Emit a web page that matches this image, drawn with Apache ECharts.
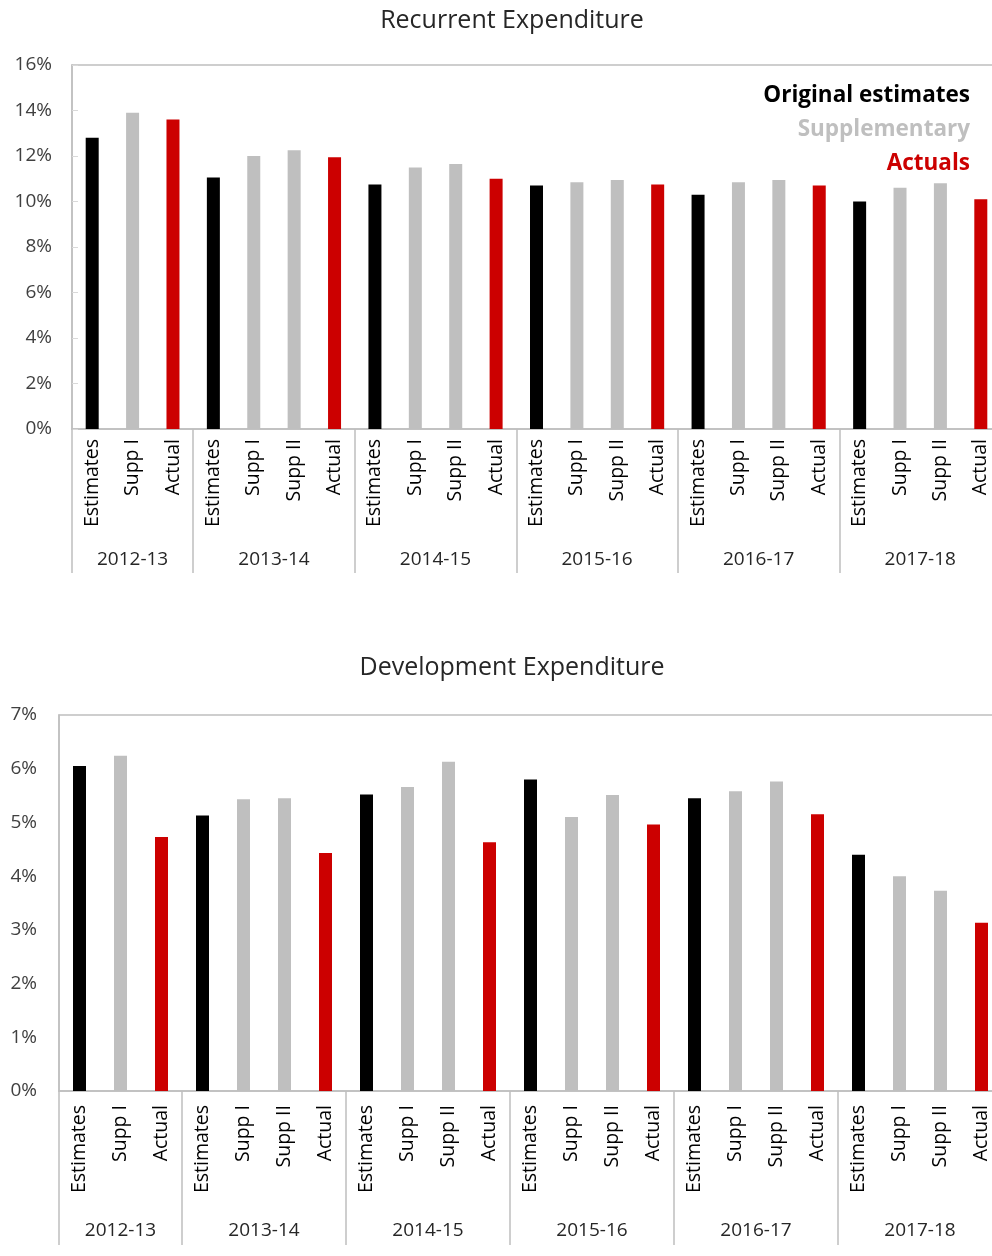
<!DOCTYPE html>
<html>
<head>
<meta charset="utf-8">
<script src="https://cdn.jsdelivr.net/npm/echarts@6/dist/echarts.min.js"></script>
<style>
  html, body { margin: 0; padding: 0; background: #fff; }
  #chart { width: 992px; height: 1256px; }
</style>
</head>
<body>
<div id="chart"></div>
<script>
// sub-categories under each fiscal year
var years = ['2012-13', '2013-14', '2014-15', '2015-16', '2016-17', '2017-18']
var yearStages = [
    ['Estimates', 'Supp I', 'Actual'],
    ['Estimates', 'Supp I', 'Supp II', 'Actual'],
    ['Estimates', 'Supp I', 'Supp II', 'Actual'],
    ['Estimates', 'Supp I', 'Supp II', 'Actual'],
    ['Estimates', 'Supp I', 'Supp II', 'Actual'],
    ['Estimates', 'Supp I', 'Supp II', 'Actual']
]

// % values, one per bar, left to right
var recurrent = [12.8, 13.9, 13.6,
    11.05, 12.0, 12.25, 11.95,
    10.75, 11.5, 11.65, 11.0,
    10.7, 10.85, 10.95, 10.75,
    10.3, 10.85, 10.95, 10.7,
    10.0, 10.6, 10.8, 10.1]
var development = [6.05, 6.24, 4.73,
    5.13, 5.43, 5.45, 4.43,
    5.52, 5.66, 6.13, 4.63,
    5.80, 5.10, 5.51, 4.96,
    5.45, 5.58, 5.76, 5.15,
    4.40, 4.00, 3.73, 3.13]

var seriesNames = ['Original estimates', 'Supplementary', 'Actuals']
var seriesColors = ['#000000', '#bfbfbf', '#cc0000']

var FONT = '"Open Sans", "Noto Sans", sans-serif'
var AXIS_GRAY = '#bfbfbf'

var stages = [].concat.apply([], yearStages)
function kindOf(stage) {
    if (stage === 'Estimates') return 0
    if (stage === 'Actual') return 2
    return 1
}

// year axis uses half-category slots so group centres & boundaries land on data points
var yearSlots = []
var boundarySlots = {}
var pos = 0
boundarySlots[0] = true
years.forEach(function (y, i) {
    var n = yearStages[i].length * 2
    for (var k = 0; k < n; k++) yearSlots.push(k === n / 2 ? y : '')
    pos += n
    boundarySlots[pos] = true
})
yearSlots.push('')

function barSeries(values, gridIdx) {
    return seriesNames.map(function (name, s) {
        return {
            name: name,
            type: 'bar',
            xAxisIndex: gridIdx * 2,
            yAxisIndex: gridIdx,
            barWidth: 13,
            barGap: '-100%',
            color: seriesColors[s],
            itemStyle: { color: seriesColors[s] },
            data: values.map(function (v, i) { return kindOf(stages[i]) === s ? v : '-' })
        }
    })
}

function stageAxis(gridIdx, margin) {
    return {
        gridIndex: gridIdx,
        type: 'category',
        position: 'bottom',
        data: stages,
        axisLine: { lineStyle: { color: AXIS_GRAY, width: 1.5 } },
        axisTick: { show: false },
        axisLabel: {
            interval: 0, rotate: 90, margin: margin,
            color: '#000', fontFamily: FONT, fontSize: 19.5
        }
    }
}

function yearAxis(gridIdx, tickLen, margin) {
    return {
        gridIndex: gridIdx,
        type: 'category',
        position: 'bottom',
        boundaryGap: false,
        data: yearSlots,
        axisLine: { show: false },
        axisTick: {
            show: true, length: tickLen,
            interval: function (idx) { return !!boundarySlots[idx] },
            lineStyle: { color: AXIS_GRAY, width: 1.5 }
        },
        axisLabel: {
            interval: 0, margin: margin,
            color: '#262626', fontFamily: FONT, fontSize: 19
        }
    }
}

var myChart = echarts.init(document.getElementById('chart'))
myChart.setOption({
    animation: false,
    backgroundColor: '#fff',
    title: [
        { text: 'Recurrent Expenditure', left: 512, top: 8, textAlign: 'center', padding: 0,
          textStyle: { fontFamily: FONT, fontSize: 25, fontWeight: 'normal', color: '#262626' } },
        { text: 'Development Expenditure', left: 512, top: 655, textAlign: 'center', padding: 0,
          textStyle: { fontFamily: FONT, fontSize: 25, fontWeight: 'normal', color: '#262626' } }
    ],
    legend: {
        orient: 'vertical',
        right: 12,
        top: 79,
        align: 'right',
        icon: 'none',
        itemWidth: 0,
        itemHeight: 20,
        itemGap: 11,
        selectedMode: false,
        textStyle: { fontFamily: FONT, fontSize: 22.5, fontWeight: 'bold' },
        data: seriesNames.map(function (n, i) {
            return { name: n, textStyle: { color: seriesColors[i] } }
        })
    },
    grid: [
        // plot area runs slightly past the right edge, as in the cropped source
        { left: 72, width: 929, top: 65, bottom: 827, outerBoundsMode: 'none', containLabel: false,
          show: true, borderColor: AXIS_GRAY, borderWidth: 1.5 },
        { left: 59, width: 943, top: 715, bottom: 165, outerBoundsMode: 'none', containLabel: false,
          show: true, borderColor: AXIS_GRAY, borderWidth: 1.5 }
    ],
    xAxis: [
        stageAxis(0, 10),
        yearAxis(0, 144, 121),
        stageAxis(1, 14),
        yearAxis(1, 154, 130)
    ],
    yAxis: [
        {
            gridIndex: 0, type: 'value', min: 0, max: 16, interval: 2,
            axisLine: { show: true, lineStyle: { color: AXIS_GRAY, width: 1.5 } },
            axisTick: { show: true, inside: true, length: 6, lineStyle: { color: '#d9d9d9' } },
            splitLine: { show: false },
            axisLabel: { formatter: '{value}%', margin: 20, color: '#404040', fontFamily: FONT, fontSize: 19 }
        },
        {
            gridIndex: 1, type: 'value', min: 0, max: 7, interval: 1,
            axisLine: { show: true, lineStyle: { color: AXIS_GRAY, width: 1.5 } },
            axisTick: { show: false },
            splitLine: { show: false },
            axisLabel: { formatter: '{value}%', margin: 22, color: '#404040', fontFamily: FONT, fontSize: 19 }
        }
    ],
    series: barSeries(recurrent, 0).concat(barSeries(development, 1))
})
</script>
</body>
</html>
